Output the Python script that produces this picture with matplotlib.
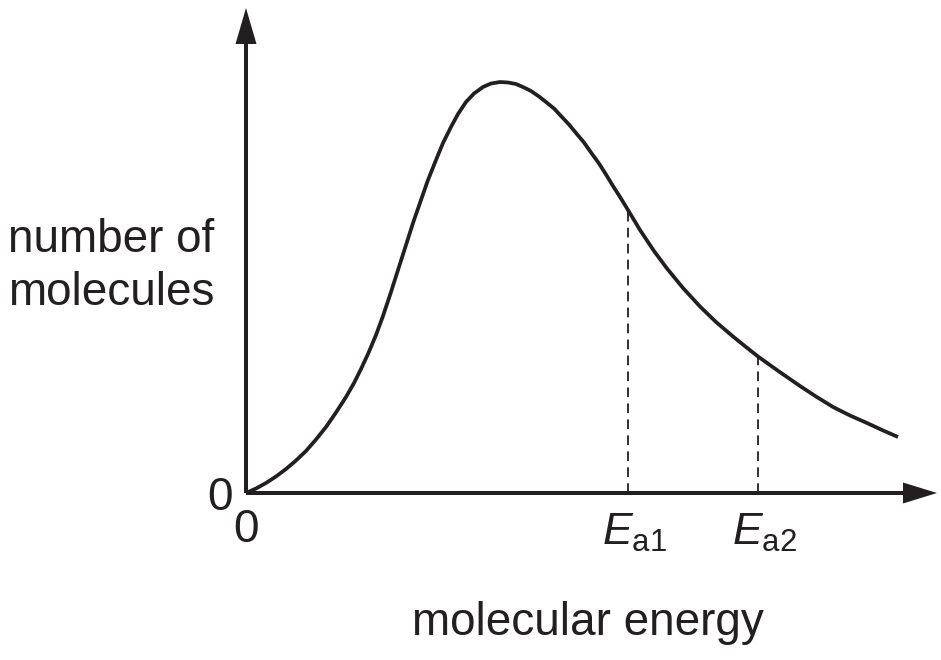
import matplotlib
matplotlib.use('Agg')
import matplotlib.pyplot as plt

# Maxwell-Boltzmann style energy distribution
energy = [0, 10, 20, 30, 40, 50, 60, 70, 80, 90, 100, 108, 115, 122, 130,
          137, 145, 152, 160, 167, 175, 182, 190, 197, 205, 212, 220, 228,
          237, 245, 254, 262, 270, 278, 285, 293, 300, 308, 315, 323, 330,
          338, 345, 353, 360, 367, 375, 382, 394, 408, 421, 437, 454, 470,
          487, 500, 512, 533, 554, 570, 587, 604, 621, 636, 652]
molecules = [0, 4.5, 10, 16.5, 24, 32.5, 42, 53.5, 66, 80.5, 96, 110, 124,
             139, 158, 177, 201, 223, 248, 270, 293, 313, 333, 350, 366, 379,
             391, 399.5, 406, 409.5, 411, 410.5, 409, 405.5, 402, 396.5, 391,
             384.5, 377, 368.5, 360, 350.5, 340.5, 329.5, 318.5, 307, 294.5,
             283, 263, 242, 224.5, 205, 186.5, 171, 156.5, 146, 136.5, 121.5,
             107, 96.5, 86, 77.5, 70, 63, 56]

ea_energy = [382, 512]
ea_height = [283, 136.5]
ea_labels = [r'$E_{\mathrm{a1}}$', r'$E_{\mathrm{a2}}$']

x_max = 691   # end of energy axis arrow
y_max = 485   # end of molecules axis arrow

ink = '#231f20'

plt.rcParams['font.family'] = ['Liberation Sans', 'DejaVu Sans']
plt.rcParams['mathtext.fontset'] = 'custom'
plt.rcParams['mathtext.rm'] = 'Liberation Sans'
plt.rcParams['mathtext.it'] = 'Liberation Sans:italic'
plt.rcParams['lines.scale_dashes'] = False

fig = plt.figure(figsize=(9.41, 6.60), dpi=100)
ax = fig.add_axes([0, 0, 1, 1])
ax.set_xlim(-246, 695)
ax.set_ylim(-167, 493)
ax.axis('off')

# axes with arrow heads
ax.arrow(0, 0, x_max, 0, width=4, head_width=21, head_length=34,
         length_includes_head=True, color=ink, lw=0)
ax.arrow(0, 0, 0, y_max, width=4, head_width=21, head_length=36,
         length_includes_head=True, color=ink, lw=0)

ax.plot(energy, molecules, color=ink, lw=2.7, solid_joinstyle='round',
        solid_capstyle='butt')

for e, h, lab in zip(ea_energy, ea_height, ea_labels):
    ax.plot([e, e], [0, h], color=ink, lw=1.3, dashes=(7, 4.5))
    ax.text(e + 6, -52, lab, fontsize=32, ha='center', va='baseline', color=ink)

fs = 33
ax.text(-13, -17, '0', fontsize=fs, ha='right', va='baseline', color=ink)
ax.text(0, -49, '0', fontsize=fs, ha='center', va='baseline', color=ink)
ax.text(-238, 241, 'number of', fontsize=fs, ha='left', va='baseline', color=ink)
ax.text(-238, 188, 'molecules', fontsize=fs, ha='left', va='baseline', color=ink)
ax.text(342, -142, 'molecular energy', fontsize=fs, ha='center', va='baseline',
        color=ink)

fig.savefig('out.png', dpi=100)
